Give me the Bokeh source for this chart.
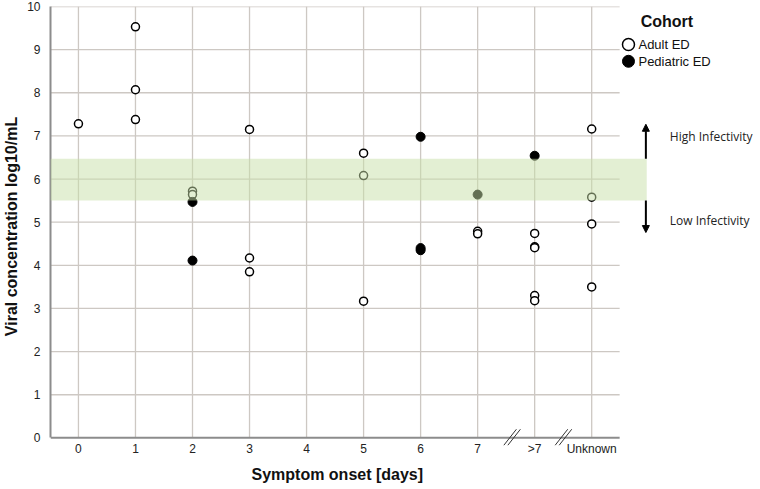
from bokeh.plotting import figure
from bokeh.models import Range1d, FixedTicker, BoxAnnotation, Arrow, NormalHead, Title
from bokeh.core.properties import value
from bokeh.embed import file_html
from bokeh.resources import INLINE

# ---------------- data ----------------
categories = ["0", "1", "2", "3", "4", "5", "6", "7", ">7", "Unknown"]

adult_onset = ["0", "1", "1", "1", "2", "2", "3", "3", "3", "5", "5", "5",
               "7", "7", ">7", ">7", ">7", ">7", ">7",
               "Unknown", "Unknown", "Unknown", "Unknown"]
adult_conc = [7.28, 9.53, 8.07, 7.38, 5.72, 5.64, 7.15, 4.17, 3.85, 6.60, 6.08, 3.17,
              4.79, 4.73, 4.74, 4.43, 4.41, 3.30, 3.18,
              7.16, 5.58, 4.96, 3.50]

ped_onset = ["2", "2", "6", "6", "6", "7", ">7"]
ped_conc = [5.47, 4.11, 6.98, 4.40, 4.35, 5.64, 6.54]

y_ticks = [0, 1, 2, 3, 4, 5, 6, 7, 8, 9, 10]
band_low, band_high = 5.5, 6.47          # infectivity threshold band
breaks_after = ["7", ">7"]               # axis breaks drawn after these categories

# ---------------- layout constants ----------------
X_LO, X_HI = -0.49, 9.49
GRID = "#cdc8c3"
AXIS = "#8c8c8c"
FONT = "Liberation Sans"

pos = {c: i for i, c in enumerate(categories)}
ax = [pos[c] for c in adult_onset]
px = [pos[c] for c in ped_onset]

p = figure(width=760, height=489,
           x_range=Range1d(X_LO, 11.96), y_range=Range1d(-0.2, 10),
           output_backend="svg", toolbar_location=None,
           min_border_left=49, min_border_right=0, min_border_top=6, min_border_bottom=43)
p.outline_line_color = None
p.xgrid.visible = False
p.ygrid.visible = False
p.background_fill_color = "white"
p.border_fill_color = "white"

# x axis (labels only; line drawn manually)
xa = p.xaxis[0]
xa.ticker = FixedTicker(ticks=list(range(len(categories))))
xa.major_label_overrides = {i: c for i, c in enumerate(categories)}
xa.axis_line_color = None
xa.major_tick_line_color = None
xa.minor_tick_line_color = None
xa.major_label_text_font = FONT
xa.major_label_text_font_size = "12px"
xa.major_label_text_color = "#222222"
xa.major_label_standoff = -11

# y axis
ya = p.yaxis[0]
ya.ticker = FixedTicker(ticks=y_ticks)
ya.bounds = (0, 10)
ya.axis_line_color = AXIS
ya.axis_line_width = 2
ya.major_tick_line_color = None
ya.minor_tick_line_color = None
ya.major_label_text_font = FONT
ya.major_label_text_font_size = "12px"
ya.major_label_text_color = "#222222"
ya.major_label_standoff = 4
ya.axis_label = "Viral concentration log10/mL"
ya.axis_label_text_font = FONT
ya.axis_label_text_font_style = "bold"
ya.axis_label_text_font_size = "16px"
ya.axis_label_text_color = "#111111"
ya.axis_label_standoff = 4

# gridlines
hy = [t for t in y_ticks if t > 0]
p.segment(x0=[X_LO] * len(hy), x1=[X_HI] * len(hy), y0=hy, y1=hy,
          line_color=GRID, line_width=1.3)
vx = list(range(len(categories)))
p.segment(x0=vx, x1=vx, y0=[0] * len(vx), y1=[10] * len(vx),
          line_color=GRID, line_width=1.3)
# x axis line
p.segment(x0=[X_LO], x1=[X_HI], y0=[0], y1=[0], line_color=AXIS, line_width=2)

# axis break marks
bx = [pos[c] + 0.5 for c in breaks_after]
bx[0] += 0.1
for off in (0.0, 0.07):
    p.segment(x0=[b - 0.14 + off for b in bx], x1=[b + 0.08 + off for b in bx],
              y0=[-0.17] * len(bx), y1=[0.2] * len(bx),
              line_color="#333333", line_width=1)

# data points
p.scatter(ax, adult_conc, marker="circle", size=8, fill_color="white",
          line_color="black", line_width=1.5)
p.scatter(px, ped_conc, marker="circle", size=9, fill_color="black",
          line_color="black", line_width=1)

# infectivity band (overlay)
p.add_layout(BoxAnnotation(left=X_LO, right=9.965, bottom=band_low, top=band_high,
                           fill_color="#c8e0a8", fill_alpha=0.5, line_color=None))

# arrows + text
p.add_layout(Arrow(end=NormalHead(size=7, fill_color="black", line_color="black"),
                   x_start=9.95, y_start=band_high, x_end=9.95, y_end=7.27,
                   line_color="black", line_width=2))
p.add_layout(Arrow(end=NormalHead(size=7, fill_color="black", line_color="black"),
                   x_start=9.95, y_start=band_low, x_end=9.95, y_end=4.76,
                   line_color="black", line_width=2))
p.text(x=[10.37, 10.37], y=[6.99, 5.04], text=["High Infectivity", "Low Infectivity"],
       text_font=value("Open Sans"), text_font_size="12px", text_color="#222222",
       text_baseline="middle", text_align="left")

# legend (manual)
p.text(x=[9.86], y=[9.66], text=["Cohort"], text_font=value(FONT),
       text_font_size="16px", text_font_style="bold", text_color="#111111",
       text_baseline="middle")
p.scatter([9.645], [9.12], marker="circle", size=12, fill_color="white",
          line_color="black", line_width=1.5)
p.scatter([9.645], [8.73], marker="circle", size=12, fill_color="black",
          line_color="black")
p.text(x=[9.82, 9.82], y=[9.12, 8.73], text=["Adult ED", "Pediatric ED"],
       text_font=value(FONT), text_font_size="13px", text_color="#111111",
       text_baseline="middle")

# x axis title
p.add_layout(Title(text="Symptom onset [days]", align="left", offset=201,
                   text_font=FONT, text_font_size="16px", text_font_style="bold",
                   text_color="#111111", standoff=10), "below")

open("out.html", "w").write(file_html(p, INLINE))
